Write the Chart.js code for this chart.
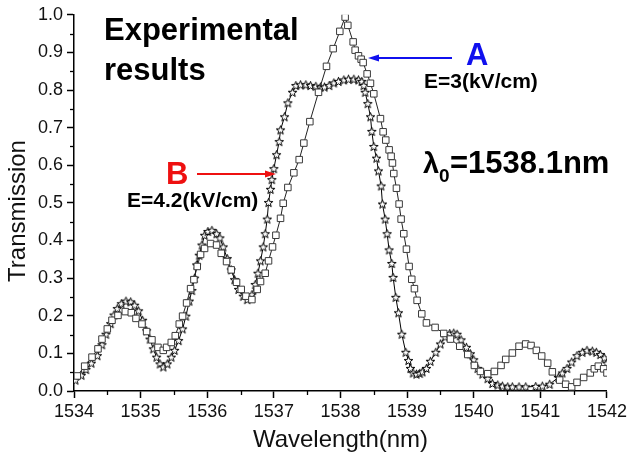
<!DOCTYPE html>
<html>
<head>
<meta charset="utf-8">
<script src="https://cdn.jsdelivr.net/npm/chart.js@4/dist/chart.umd.min.js"></script>
<style>
html,body{margin:0;padding:0;background:#fff;}
canvas{display:block;}
</style>
</head>
<body>
<canvas id="c" width="630" height="463"></canvas>
<script>
// Series A: E = 3 kV/cm (squares)
const wavelengthA = [
1534.05,1534.16,1534.27,1534.36,1534.42,1534.50,1534.57,1534.66,1534.77,1534.86,
1534.93,1535.02,1535.09,1535.17,1535.26,1535.34,1535.39,1535.46,1535.52,1535.58,
1535.63,1535.69,1535.75,1535.80,1535.85,1535.90,1535.96,1536.05,1536.14,1536.21,
1536.29,1536.36,1536.44,1536.51,1536.58,1536.67,1536.75,1536.80,1536.87,1536.92,
1536.98,1537.03,1537.10,1537.14,1537.21,1537.30,1537.38,1537.45,1537.54,1537.67,
1537.79,1537.89,1537.99,1538.07,1538.11,1538.19,1538.22,1538.27,1538.31,1538.34,
1538.40,1538.45,1538.50,1538.60,1538.64,1538.68,1538.73,1538.76,1538.78,1538.80,
1538.84,1538.88,1538.91,1538.95,1538.99,1539.03,1539.07,1539.11,1539.15,1539.22,
1539.29,1539.42,1539.55,1539.65,1539.79,1539.91,1540.01,1540.10,1540.21,1540.31,
1540.41,1540.48,1540.58,1540.68,1540.78,1540.86,1540.94,1541.02,1541.11,1541.18,
1541.29,1541.38,1541.47,1541.55,1541.65,1541.75,1541.81,1541.87,1541.95,1542.00];
const transmissionA = [
0.040,0.066,0.090,0.112,0.138,0.165,0.188,0.201,0.211,0.208,
0.193,0.178,0.158,0.136,0.116,0.108,0.116,0.129,0.147,0.178,
0.199,0.234,0.272,0.296,0.331,0.363,0.379,0.392,0.388,0.366,
0.344,0.322,0.289,0.270,0.252,0.243,0.270,0.291,0.313,0.346,
0.383,0.414,0.459,0.499,0.541,0.580,0.615,0.659,0.716,0.794,
0.863,0.910,0.956,0.994,0.972,0.928,0.906,0.891,0.882,0.873,
0.843,0.818,0.790,0.724,0.689,0.667,0.641,0.624,0.606,0.578,
0.539,0.497,0.457,0.418,0.377,0.331,0.297,0.272,0.241,0.205,
0.181,0.169,0.153,0.138,0.119,0.097,0.068,0.052,0.046,0.052,
0.068,0.084,0.101,0.119,0.125,0.121,0.108,0.093,0.074,0.051,
0.029,0.018,0.011,0.023,0.036,0.048,0.059,0.066,0.059,0.048];

// Series B: E = 4.2 kV/cm (stars)
const wavelengthB = [
1534.02,1534.11,1534.18,1534.26,1534.35,1534.42,1534.48,1534.55,1534.60,1534.65,
1534.71,1534.78,1534.85,1534.91,1534.97,1535.03,1535.09,1535.14,1535.19,1535.24,
1535.29,1535.34,1535.40,1535.46,1535.51,1535.57,1535.63,1535.68,1535.73,1535.77,
1535.81,1535.84,1535.88,1535.92,1535.96,1536.01,1536.07,1536.14,1536.19,1536.24,
1536.30,1536.36,1536.41,1536.47,1536.54,1536.60,1536.67,1536.72,1536.76,1536.80,
1536.84,1536.87,1536.90,1536.92,1536.95,1536.97,1537.00,1537.04,1537.08,1537.10,
1537.16,1537.21,1537.28,1537.33,1537.40,1537.48,1537.55,1537.63,1537.70,1537.76,
1537.83,1537.90,1537.97,1538.05,1538.12,1538.20,1538.27,1538.32,1538.35,1538.37,
1538.41,1538.45,1538.47,1538.50,1538.54,1538.57,1538.61,1538.63,1538.67,1538.70,
1538.73,1538.77,1538.79,1538.83,1538.87,1538.92,1538.98,1539.02,1539.05,1539.09,
1539.14,1539.19,1539.23,1539.29,1539.35,1539.43,1539.50,1539.57,1539.64,1539.70,
1539.75,1539.81,1539.89,1539.95,1540.00,1540.06,1540.13,1540.21,1540.28,1540.36,
1540.43,1540.51,1540.58,1540.68,1540.78,1540.93,1541.03,1541.14,1541.27,1541.33,
1541.40,1541.47,1541.55,1541.63,1541.70,1541.78,1541.84,1541.90,1541.96,1542.00];
const transmissionB = [
0.029,0.042,0.057,0.074,0.094,0.123,0.151,0.179,0.202,0.219,
0.232,0.239,0.237,0.228,0.213,0.188,0.160,0.138,0.112,0.090,
0.072,0.064,0.072,0.090,0.108,0.134,0.165,0.199,0.239,0.267,
0.300,0.335,0.361,0.388,0.414,0.424,0.427,0.418,0.407,0.383,
0.352,0.322,0.296,0.270,0.252,0.243,0.256,0.283,0.313,0.346,
0.383,0.418,0.457,0.501,0.536,0.562,0.591,0.628,0.663,0.694,
0.729,0.766,0.794,0.812,0.814,0.814,0.812,0.810,0.808,0.808,
0.812,0.819,0.823,0.827,0.829,0.829,0.827,0.823,0.812,0.794,
0.764,0.729,0.690,0.650,0.619,0.585,0.545,0.497,0.457,0.418,
0.375,0.339,0.302,0.249,0.208,0.151,0.103,0.081,0.060,0.048,
0.045,0.047,0.051,0.060,0.079,0.103,0.125,0.144,0.153,0.154,
0.151,0.136,0.116,0.099,0.083,0.060,0.045,0.033,0.020,0.016,
0.013,0.011,0.011,0.011,0.011,0.012,0.013,0.018,0.036,0.048,
0.060,0.077,0.094,0.103,0.108,0.106,0.103,0.097,0.088,0.074];

const xTickMin = 1534, xTickMax = 1542, xStep = 1;
const yTickMin = 0, yTickMax = 1, yStep = 0.1;
const xTitle = 'Wavelength(nm)';
const yTitle = 'Transmission';

const FONT = '"Liberation Sans", Arial, Helvetica, sans-serif';

function toPoints(xs, ys){ return xs.map((x,i)=>({x:x, y:ys[i]})); }

// hollow star marker
function makeStar(){
  const s = 13, c = document.createElement('canvas');
  c.width = s; c.height = s;
  const g = c.getContext('2d');
  const cx = s/2, cy = s/2 + 0.4, R = 4.6, r = 1.9;
  g.beginPath();
  for (let k=0;k<10;k++){
    const rad = (k%2===0)?R:r;
    const a = -Math.PI/2 + k*Math.PI/5;
    const px = cx + rad*Math.cos(a), py = cy + rad*Math.sin(a);
    if(k===0) g.moveTo(px,py); else g.lineTo(px,py);
  }
  g.closePath();
  g.fillStyle = '#fff'; g.fill();
  g.lineWidth = 1; g.strokeStyle = '#000'; g.stroke();
  return c;
}
const starImg = makeStar();

function arrow(ctx, x1, y, x2, color){
  const dir = Math.sign(x2 - x1);
  ctx.save();
  ctx.strokeStyle = color; ctx.fillStyle = color; ctx.lineWidth = 2;
  ctx.beginPath(); ctx.moveTo(x1, y); ctx.lineTo(x2 - dir*8, y); ctx.stroke();
  ctx.beginPath(); ctx.moveTo(x2, y); ctx.lineTo(x2 - dir*11, y - 3.5); ctx.lineTo(x2 - dir*11, y + 3.5); ctx.closePath(); ctx.fill();
  ctx.restore();
}

const decor = {
  id: 'decor',
  afterDraw(chart){
    const ctx = chart.ctx, xs = chart.scales.x, ys = chart.scales.y;
    const area = chart.chartArea;
    ctx.save();
    // minor ticks
    ctx.strokeStyle = '#000'; ctx.lineWidth = 1.3;
    for (let v = xTickMin + xStep/2; v < xTickMax; v += xStep){
      const px = Math.round(xs.getPixelForValue(v)) + 0.5;
      ctx.beginPath(); ctx.moveTo(px, area.bottom); ctx.lineTo(px, area.bottom + 4); ctx.stroke();
    }
    for (let v = yTickMin + yStep/2; v < yTickMax; v += yStep){
      const py = Math.round(ys.getPixelForValue(v)) + 0.5;
      ctx.beginPath(); ctx.moveTo(area.left - 4, py); ctx.lineTo(area.left, py); ctx.stroke();
    }
    // y axis title
    ctx.save();
    ctx.translate(18, 211);
    ctx.rotate(-Math.PI/2);
    ctx.textAlign = 'center'; ctx.textBaseline = 'middle';
    ctx.fillStyle = '#111';
    ctx.font = '24px ' + FONT;
    ctx.fillText(yTitle, 0, 0);
    ctx.restore();
    // texts
    ctx.fillStyle = '#000';
    ctx.textBaseline = 'alphabetic';
    ctx.textAlign = 'left';
    ctx.font = 'bold 31px ' + FONT;
    ctx.fillText('Experimental', 104, 40);
    ctx.fillText('results', 104, 80);

    ctx.fillStyle = '#1010ee';
    ctx.font = 'bold 31px ' + FONT;
    ctx.fillText('A', 466, 65);
    arrow(ctx, 452, 58, 368, '#1010ee');
    ctx.fillStyle = '#000';
    ctx.font = 'bold 21px ' + FONT;
    ctx.fillText('E=3(kV/cm)', 424, 88);

    ctx.fillStyle = '#ee1010';
    ctx.font = 'bold 31px ' + FONT;
    ctx.fillText('B', 166, 184);
    arrow(ctx, 197, 174, 276, '#ee1010');
    ctx.fillStyle = '#000';
    ctx.font = 'bold 21px ' + FONT;
    ctx.fillText('E=4.2(kV/cm)', 127, 207);

    ctx.font = 'bold 29px ' + FONT;
    ctx.fillText('\u03bb', 423, 173);
    ctx.font = 'bold 19px ' + FONT;
    ctx.fillText('0', 439, 182);
    ctx.font = 'bold 31px ' + FONT;
    ctx.fillText('=1538.1nm', 450, 173);
    ctx.restore();
  }
};

new Chart(document.getElementById('c'), {
  type: 'scatter',
  data: {
    datasets: [
      {
        label: 'E=3(kV/cm)',
        data: toPoints(wavelengthA, transmissionA),
        showLine: true,
        borderColor: '#222',
        borderWidth: 1,
        pointStyle: 'rect',
        pointRadius: 4.6,
        pointBorderWidth: 1,
        pointBorderColor: '#3a3a3a',
        pointBackgroundColor: '#fff',
        tension: 0
      },
      {
        label: 'E=4.2(kV/cm)',
        data: toPoints(wavelengthB, transmissionB),
        showLine: true,
        borderColor: '#000',
        borderWidth: 1,
        pointStyle: starImg,
        pointRadius: 5,
        tension: 0
      }
    ]
  },
  options: {
    responsive: false,
    animation: false,
    layout: { padding: { left: 0, right: 18, top: 10, bottom: 0 } },
    plugins: { legend: { display: false }, tooltip: { enabled: false } },
    scales: {
      x: {
        type: 'linear',
        min: xTickMin, max: xTickMax,
        border: { display: true, color: '#000', width: 1.5 },
        grid: { display: true, drawOnChartArea: false, drawTicks: true, tickLength: 7, tickColor: '#000', tickWidth: 1.5 },
        ticks: { stepSize: xStep, padding: 3, color: '#111', font: { family: FONT, size: 18 }, maxRotation: 0,
                 callback: (v) => String(Math.round(v)) },
        title: { display: true, text: xTitle, color: '#111', font: { family: FONT, size: 24 }, padding: { top: 0, bottom: 8 } },
        afterFit: (s) => { s.height = 72; }
      },
      y: {
        type: 'linear',
        min: yTickMin, max: yTickMax,
        border: { display: true, color: '#000', width: 1.5 },
        grid: { display: true, drawOnChartArea: false, drawTicks: true, tickLength: 7, tickColor: '#000', tickWidth: 1.5 },
        ticks: { stepSize: yStep, padding: 4, color: '#111', font: { family: FONT, size: 18 },
                 callback: (v) => Number(v).toFixed(1) },
        title: { display: false },
        afterFit: (s) => { s.width = 74; }
      }
    }
  },
  plugins: [decor]
});
</script>
</body>
</html>
